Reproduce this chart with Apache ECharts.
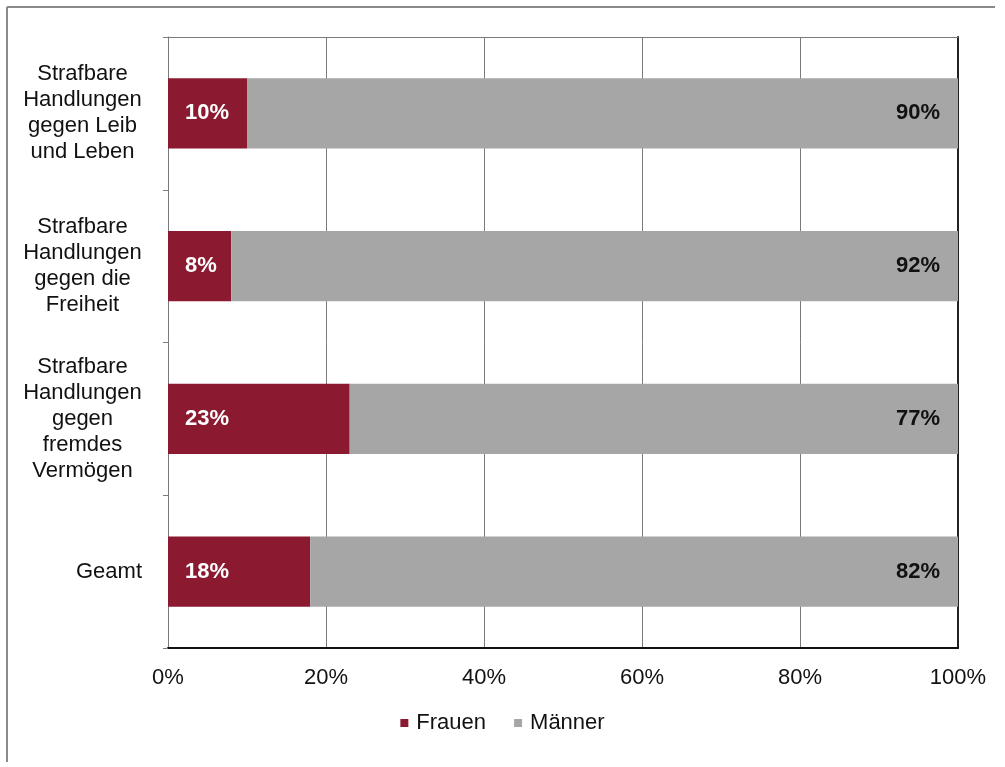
<!DOCTYPE html>
<html>
<head>
<meta charset="utf-8">
<script src="https://cdn.jsdelivr.net/npm/echarts@6/dist/echarts.min.js"></script>
<style>html,body{margin:0;padding:0;background:#fff;}#c{width:1005px;height:767px;}</style>
</head>
<body>
<div id="c"></div>
<script>
const categories = [
  "Strafbare\nHandlungen\ngegen Leib\nund Leben",
  "Strafbare\nHandlungen\ngegen die\nFreiheit",
  "Strafbare\nHandlungen\ngegen\nfremdes\nVermögen",
  "Geamt"
];
const frauen = [10, 8, 23, 18];
const maenner = [90, 92, 77, 82];
const seriesNames = ["Frauen", "Männer"];
const xTicks = [0, 20, 40, 60, 80, 100];

const FONT = "'Liberation Sans', Arial, sans-serif";
const chart = echarts.init(document.getElementById('c'), null, {renderer: 'canvas'});

function catLabel(v) {
  if (v.indexOf('\n') < 0) return v;
  return v.split('\n').map(l => '{c|' + l + '}').join('\n');
}

chart.setOption({
  animation: false,
  backgroundColor: '#fff',
  textStyle: {fontFamily: FONT},
  graphic: [
    {type: 'line', shape: {x1: 7, y1: 7, x2: 995, y2: 7}, style: {stroke: '#8a8a8a', lineWidth: 2}},
    {type: 'line', shape: {x1: 7, y1: 7, x2: 7, y2: 762}, style: {stroke: '#8a8a8a', lineWidth: 2}}
  ],
  grid: {left: 168, right: 47, top: 37, bottom: 119, containLabel: false},
  legend: {
    data: seriesNames,
    bottom: 28,
    left: 'center',
    icon: 'rect',
    itemWidth: 8,
    itemHeight: 8,
    itemGap: 28,
    textStyle: {fontSize: 22, color: '#111', fontFamily: FONT, padding: [0, 0, 0, 3]}
  },
  xAxis: [
    {
      type: 'value',
      min: 0, max: 100, interval: 20,
      axisLine: {show: true, lineStyle: {color: '#111', width: 2}},
      axisTick: {show: false},
      splitLine: {show: true, lineStyle: {color: '#7a7a7a', width: 1}},
      axisLabel: {
        fontSize: 22, color: '#111', margin: 19, fontFamily: FONT,
        formatter: v => xTicks.indexOf(v) >= 0 ? v + '%' : ''
      }
    },
    {
      type: 'value', position: 'top',
      min: 0, max: 100, interval: 20,
      axisLine: {show: true, onZero: false, lineStyle: {color: '#7a7a7a', width: 1}},
      axisTick: {show: false}, axisLabel: {show: false}, splitLine: {show: false}
    }
  ],
  yAxis: [
    {
      type: 'category',
      inverse: true,
      data: categories,
      axisLine: {show: true, onZero: false, lineStyle: {color: '#7a7a7a', width: 1}},
      axisTick: {show: true, length: 5, lineStyle: {color: '#7a7a7a'}},
      splitLine: {show: false},
      axisLabel: {
        fontSize: 22, color: '#111', margin: 26, lineHeight: 26, fontFamily: FONT,
        formatter: catLabel,
        rich: {c: {width: 119, align: 'center', fontSize: 22, lineHeight: 26, color: '#111', fontFamily: FONT}}
      }
    },
    {
      type: 'category', position: 'right',
      inverse: true,
      data: categories,
      axisLine: {show: true, onZero: false, lineStyle: {color: '#222', width: 2}},
      axisTick: {show: false}, axisLabel: {show: false}, splitLine: {show: false}
    }
  ],
  series: [
    {
      name: seriesNames[0], type: 'bar', stack: 'a', data: frauen,
      barWidth: '46%',
      itemStyle: {color: '#8b1a30'},
      label: {show: true, position: 'insideLeft', distance: 17, formatter: '{c}%', color: '#fff', fontWeight: 'bold', fontSize: 22, fontFamily: FONT}
    },
    {
      name: seriesNames[1], type: 'bar', stack: 'a', data: maenner,
      barWidth: '46%',
      itemStyle: {color: '#a6a6a6'},
      label: {show: true, position: 'insideRight', distance: 18, formatter: '{c}%', color: '#111', fontWeight: 'bold', fontSize: 22, fontFamily: FONT}
    }
  ]
});
</script>
</body>
</html>
